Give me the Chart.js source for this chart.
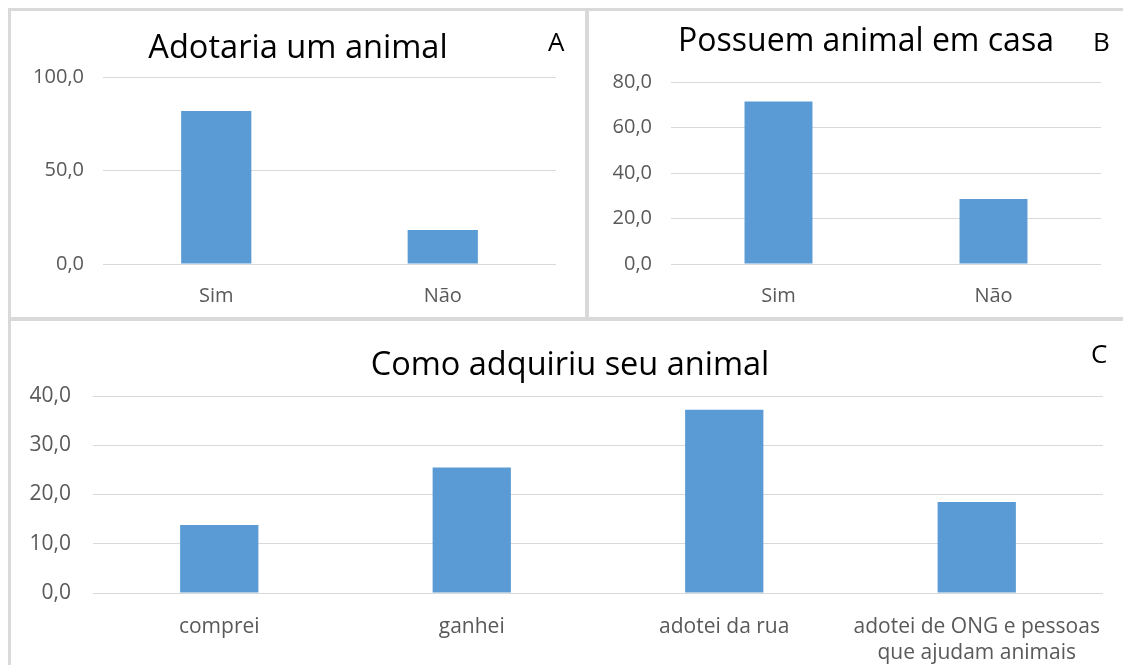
<!DOCTYPE html>
<html>
<head>
<meta charset="utf-8">
<script src="https://cdn.jsdelivr.net/npm/chart.js@4.4.1/dist/chart.umd.min.js"></script>
<style>
  html, body { margin: 0; padding: 0; background: #fff; }
  body { width: 1123px; height: 665px; overflow: hidden; position: relative; font-family: 'Open Sans', sans-serif; }
  .panel { position: absolute; box-sizing: border-box; border: 3px solid #d9d9d9; }
  .wrap { position: absolute; }
  .tag { position: absolute; font-size: 26px; color: #000; line-height: 1; }
  .title { position: absolute; width: 600px; text-align: center; white-space: nowrap; color: #000; line-height: 1; }
</style>
</head>
<body>
<div class="panel" style="left:8px;top:8px;width:581px;height:313px;"></div>
<div class="panel" style="left:585px;top:8px;width:560px;height:313px;"></div>
<div class="panel" style="left:8px;top:317px;width:1130px;height:360px;"></div>

<div class="wrap" style="left:11px;top:11px;"><canvas id="chartA" width="574" height="306"></canvas></div>
<div class="wrap" style="left:589px;top:11px;"><canvas id="chartB" width="554" height="306"></canvas></div>
<div class="wrap" style="left:11px;top:321px;"><canvas id="chartC" width="1118" height="344"></canvas></div>

<div class="title" id="titleA" style="left:-2px;top:30px;font-size:32.6px;"></div>
<div class="title" id="titleB" style="left:566px;top:23px;font-size:32px;"></div>
<div class="title" id="titleC" style="left:270px;top:347px;font-size:32.5px;"></div>

<div class="tag" style="left:548px;top:28px;">A</div>
<div class="tag" style="left:1093px;top:28px;">B</div>
<div class="tag" style="left:1091px;top:340px;">C</div>

<script>
// dados
const catsAB = ['Sim', 'Não'];
const adotariaVals = [81.8, 18.2];
const possuemVals = [71.4, 28.6];

const catsC = ['comprei', 'ganhei', 'adotei da rua', ['adotei de ONG e pessoas', 'que ajudam animais']];
const comoVals = [13.8, 25.5, 37.2, 18.5];

const ticksA = [0, 50, 100];
const ticksB = [0, 20, 40, 60, 80];
const ticksC = [0, 10, 20, 30, 40];

const titleA = 'Adotaria um animal';
const titleB = 'Possuem animal em casa';
const titleC = 'Como adquiriu seu animal';

const BAR = '#5b9bd5';
const GRID = '#d9d9d9';
const TICK = '#595959';
const FONT = "'Open Sans', sans-serif";

document.getElementById('titleA').textContent = titleA;
document.getElementById('titleB').textContent = titleB;
document.getElementById('titleC').textContent = titleC;

function fmt(v) {
  return Number(v).toFixed(1).replace('.', ',');
}

function makeChart(id, labels, values, ticks, o) {
  return new Chart(document.getElementById(id), {
    type: 'bar',
    data: {
      labels: labels,
      datasets: [{ data: values, backgroundColor: BAR, categoryPercentage: 1, barPercentage: o.barPct }]
    },
    options: {
      responsive: false,
      animation: false,
      layout: { padding: { left: 0, right: o.right, top: o.top, bottom: 0 } },
      scales: {
        x: {
          grid: { display: false, drawTicks: false },
          border: { display: false },
          ticks: { color: TICK, font: { family: FONT, size: o.xSize, lineHeight: 1.25 }, padding: o.xPad, maxRotation: 0, autoSkip: false },
          afterFit: s => { s.height = o.xHeight; }
        },
        y: {
          min: 0,
          max: ticks[ticks.length - 1],
          grid: { color: GRID, lineWidth: 1, drawTicks: false },
          border: { display: false },
          ticks: { color: TICK, font: { family: FONT, size: o.ySize }, padding: o.yPad, callback: v => fmt(v) },
          afterBuildTicks: s => { s.ticks = ticks.map(v => ({ value: v })); },
          afterFit: s => { s.width = o.yWidth; }
        }
      },
      plugins: {
        legend: { display: false },
        tooltip: { enabled: false }
      }
    }
  });
}

makeChart('chartA', catsAB, adotariaVals, ticksA,
  { barPct: 0.31, right: 29, top: 66, xSize: 20, xPad: 20, xHeight: 53, ySize: 20, yPad: 19, yWidth: 92 });

makeChart('chartB', catsAB, possuemVals, ticksB,
  { barPct: 0.316, right: 42, top: 71, xSize: 20, xPad: 20, xHeight: 53, ySize: 20, yPad: 19, yWidth: 82 });

makeChart('chartC', catsC, comoVals, ticksC,
  { barPct: 0.31, right: 26, top: 75, xSize: 21, xPad: 21, xHeight: 72, ySize: 21, yPad: 22, yWidth: 82 });
</script>
</body>
</html>
